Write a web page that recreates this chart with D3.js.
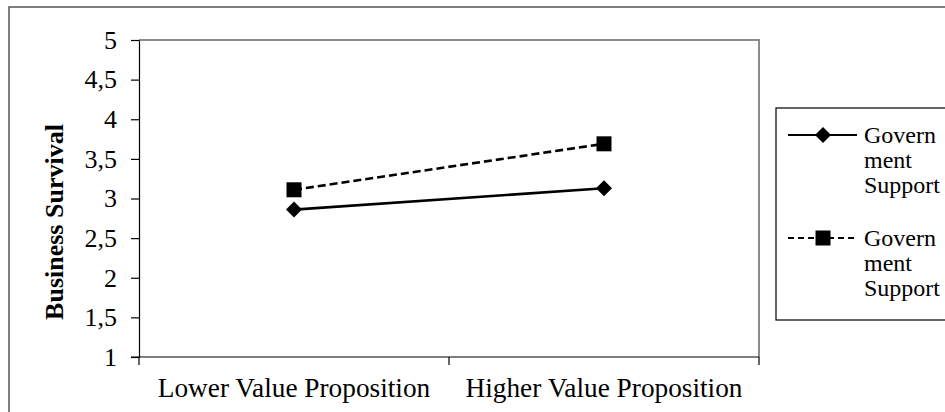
<!DOCTYPE html>
<html>
<head>
<meta charset="utf-8">
<script src="https://cdn.jsdelivr.net/npm/d3@7"></script>
<style>
  html, body { margin: 0; padding: 0; background: #fff; }
  svg { display: block; }
  text { font-family: "Liberation Serif", "Times New Roman", serif; fill: #000; }
</style>
</head>
<body>
<svg id="chart" width="945" height="412"></svg>
<script>
// Interaction plot: business survival by value proposition level
const categories = ["Lower Value Proposition", "Higher Value Proposition"];
const seriesNames = ["Government Support", "Government Support"];
const legendLines = [["Govern", "ment", "Support"], ["Govern", "ment", "Support"]];
const solidValues = [2.86, 3.13];
const dashedValues = [3.11, 3.69];
const yTicks = [1, 1.5, 2, 2.5, 3, 3.5, 4, 4.5, 5];
const yLabel = "Business Survival";

const series = [
  { name: seriesNames[0], values: solidValues, dash: null, marker: "diamond", legend: legendLines[0] },
  { name: seriesNames[1], values: dashedValues, dash: "8,4", marker: "square", legend: legendLines[1] }
];

const svg = d3.select("#chart");
const plot = { left: 139, top: 40, right: 759, bottom: 357 };

const commaLocale = d3.formatLocale({ decimal: ",", thousands: ".", grouping: [3], currency: ["", ""] });
const fmt = commaLocale.format("~g");

const x = d3.scaleBand().domain(categories).range([plot.left, plot.right]).paddingInner(0).paddingOuter(0);
const y = d3.scaleLinear().domain([1, 5]).range([plot.bottom, plot.top]);

// outer chart frame (extends past the visible edge)
svg.append("rect")
  .attr("x", 9).attr("y", 7).attr("width", 960).attr("height", 420)
  .attr("fill", "none").attr("stroke", "#555").attr("stroke-width", 1.5);

// plot area border: grey top and right
svg.append("path")
  .attr("d", `M${plot.left},${plot.top}H${plot.right}V${plot.bottom}`)
  .attr("fill", "none").attr("stroke", "#8c8c8c").attr("stroke-width", 2);

// y axis
const yAxis = svg.append("g")
  .attr("transform", `translate(${plot.left},0)`)
  .call(d3.axisLeft(y).tickValues(yTicks).tickFormat(fmt).tickSize(8).tickPadding(14).tickSizeOuter(0));
yAxis.select(".domain").attr("stroke", "#000").attr("stroke-width", 1.2);
yAxis.selectAll(".tick line").attr("stroke", "#000").attr("stroke-width", 1.2);
yAxis.selectAll(".tick text")
  .style("font-family", "'Liberation Serif', 'Times New Roman', serif")
  .style("font-size", "26px").attr("fill", "#000");

// x axis: line, ticks at category boundaries, labels at centres
const xBounds = categories.map(c => x(c)).concat([x(categories[categories.length - 1]) + x.bandwidth()]);
const xAxis = svg.append("g").attr("transform", `translate(0,${plot.bottom})`);
xAxis.append("line")
  .attr("x1", plot.left - 8).attr("x2", plot.right)
  .attr("stroke", "#000").attr("stroke-width", 1.2);
xAxis.selectAll("line.tk").data(xBounds).join("line")
  .attr("class", "tk")
  .attr("x1", d => d).attr("x2", d => d)
  .attr("y1", 0).attr("y2", 8)
  .attr("stroke", "#000").attr("stroke-width", 1.2);
xAxis.selectAll("text.cat").data(categories).join("text")
  .attr("class", "cat")
  .attr("x", d => x(d) + x.bandwidth() / 2)
  .attr("y", 40)
  .attr("text-anchor", "middle")
  .style("font-size", "27.3px")
  .text(d => d);

// y axis title
svg.append("text")
  .attr("transform", "translate(63,222) rotate(-90)")
  .attr("text-anchor", "middle")
  .style("font-size", "26px").style("font-weight", "bold")
  .text(yLabel);

// marker shapes
function drawMarker(sel, kind) {
  if (kind === "diamond") {
    sel.append("path").attr("d", "M0,-8L8,0L0,8L-8,0Z").attr("fill", "#000");
  } else {
    sel.append("path").attr("d", "M-7.5,-7.5H7.5V7.5H-7.5Z").attr("fill", "#000");
  }
}

const line = d3.line()
  .x((d, i) => x(categories[i]) + x.bandwidth() / 2)
  .y(d => y(d));

series.forEach(s => {
  svg.append("path")
    .datum(s.values)
    .attr("d", line)
    .attr("fill", "none")
    .attr("stroke", "#000")
    .attr("stroke-width", 2.6)
    .attr("stroke-dasharray", s.dash);
  s.values.forEach((v, i) => {
    const g = svg.append("g")
      .attr("transform", `translate(${x(categories[i]) + x.bandwidth() / 2},${y(v)})`);
    drawMarker(g, s.marker);
  });
});

// legend
const legend = svg.append("g");
legend.append("rect")
  .attr("x", 776).attr("y", 108).attr("width", 200).attr("height", 212)
  .attr("fill", "#fff").attr("stroke", "#000").attr("stroke-width", 1.2);
const legendY = [135, 238];
series.forEach((s, i) => {
  const g = legend.append("g").attr("transform", `translate(0,${legendY[i]})`);
  g.append("line")
    .attr("x1", 788).attr("x2", 857)
    .attr("stroke", "#000").attr("stroke-width", 2.2)
    .attr("stroke-dasharray", s.dash ? "6,4" : null);
  const m = g.append("g").attr("transform", "translate(823,0)");
  drawMarker(m, s.marker);
  const t = g.append("text").attr("x", 864).attr("y", 8).style("font-size", "24px");
  s.legend.forEach((part, k) => {
    t.append("tspan").attr("x", 864).attr("dy", k === 0 ? 0 : 25).text(part);
  });
});
</script>
</body>
</html>
